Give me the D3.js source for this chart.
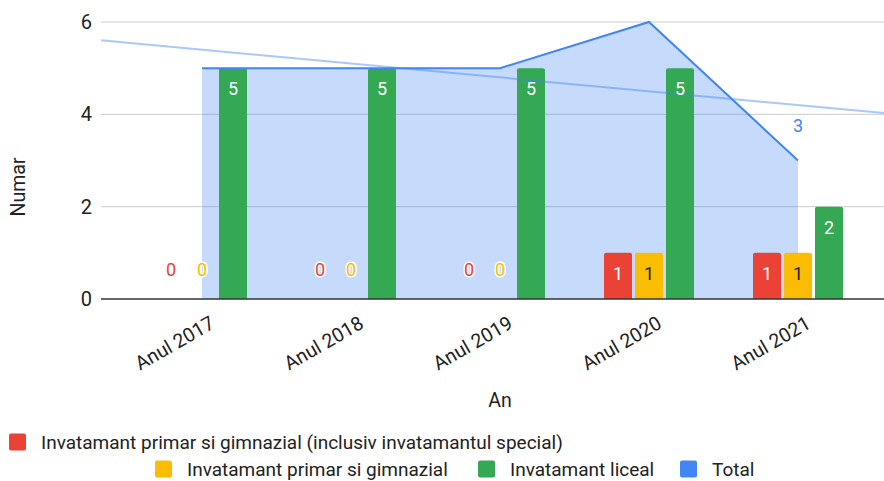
<!DOCTYPE html>
<html>
<head>
<meta charset="utf-8">
<script src="https://cdn.jsdelivr.net/npm/d3@7"></script>
<style>
  html, body { margin: 0; padding: 0; background: #fff; }
  svg { display: block; font-family: Roboto, Arial, sans-serif; }
</style>
</head>
<body>
<svg id="chart" width="884" height="481"></svg>
<script>
// Data
const categories = ["Anul 2017", "Anul 2018", "Anul 2019", "Anul 2020", "Anul 2021"];
const primarSpecial = [0, 0, 0, 1, 1];
const primar = [0, 0, 0, 1, 1];
const liceal = [5, 5, 5, 5, 2];
const total = [5, 5, 5, 6, 3];
const yTicks = [0, 2, 4, 6];

const seriesNames = [
  "Invatamant primar si gimnazial (inclusiv invatamantul special)",
  "Invatamant primar si gimnazial",
  "Invatamant liceal",
  "Total"
];
const colors = ["#ea4335", "#fbbc04", "#34a853", "#4285f4"];

const svg = d3.select("#chart");
const plot = { left: 101, right: 884, top: 22, bottom: 299 };
const FONT = "Roboto, Arial, sans-serif";

// Category positions
const x = d3.scaleBand().domain(categories).range([127.5, 872.5]);
const xc = c => x(c) + x.bandwidth() / 2;
// Continuous index scale used by the trendline
const xi = d3.scaleLinear().domain([0, 1]).range([xc(categories[0]), xc(categories[1])]);
const y = d3.scaleLinear().domain([0, 6]).range([plot.bottom, plot.top]);

// Gridlines
svg.append("g").selectAll("line").data(yTicks.filter(t => t !== 0)).join("line")
  .attr("x1", plot.left).attr("x2", plot.right)
  .attr("y1", d => y(d)).attr("y2", d => y(d))
  .attr("stroke", "#cccccc").attr("stroke-width", 1);

// Y axis labels
const yAxis = d3.axisLeft(y).tickValues(yTicks).tickFormat(d3.format("d")).tickSize(0).tickPadding(0);
const yg = svg.append("g").attr("transform", `translate(${plot.left - 9},0)`).call(yAxis);
yg.select(".domain").remove();
yg.selectAll("text").attr("font-size", 20).attr("fill", "#222").attr("font-family", FONT);

// Total area
const area = d3.area()
  .x((d, i) => xc(categories[i]))
  .y0(y(0)).y1(d => y(d));
svg.append("path").datum(total).attr("d", area)
  .attr("fill", colors[3]).attr("fill-opacity", 0.3);

// Bars
const barW = 28, gap = 3;
const barSeries = [primarSpecial, primar, liceal];
const offsets = [-(barW + gap), 0, barW + gap];
const barPath = (cx, v) => {
  const x0 = cx - barW / 2, x1 = cx + barW / 2, y0 = y(0), y1 = y(v), r = Math.min(2, y0 - y1);
  return `M${x0},${y0}V${y1 + r}Q${x0},${y1} ${x0 + r},${y1}H${x1 - r}Q${x1},${y1} ${x1},${y1 + r}V${y0}Z`;
};
barSeries.forEach((vals, s) => {
  svg.append("g").selectAll("path").data(vals).join("path")
    .attr("d", (v, i) => barPath(xc(categories[i]) + offsets[s], v))
    .attr("fill", colors[s])
    .attr("opacity", v => v > 0 ? 1 : 0);
});

// Baseline
svg.append("line").attr("x1", plot.left).attr("x2", plot.right)
  .attr("y1", y(0)).attr("y2", y(0)).attr("stroke", "#333").attr("stroke-width", 1.5);

// Total line
const line = d3.line().x((d, i) => xc(categories[i])).y(d => y(d));
svg.append("path").datum(total).attr("d", line)
  .attr("fill", "none").attr("stroke", colors[3]).attr("stroke-width", 2);

// Linear trendline for Total
const idx = total.map((d, i) => i);
const mx = d3.mean(idx), my = d3.mean(total);
const slope = d3.sum(idx, i => (i - mx) * (total[i] - my)) / d3.sum(idx, i => (i - mx) ** 2);
const trend = t => my + slope * (t - mx);
const tA = xi.invert(plot.left), tB = xi.invert(plot.right);
svg.append("line")
  .attr("x1", plot.left).attr("y1", y(trend(tA)))
  .attr("x2", plot.right).attr("y2", y(trend(tB)))
  .attr("stroke", colors[3]).attr("stroke-opacity", 0.45).attr("stroke-width", 2);

// Bar value labels
barSeries.forEach((vals, s) => {
  svg.append("g").selectAll("text").data(vals).join("text")
    .attr("x", (v, i) => xc(categories[i]) + offsets[s])
    .attr("y", v => v > 0 ? y(v) + 27 : y(0) - 23)
    .attr("text-anchor", "middle")
    .attr("font-size", 18)
    .attr("fill", v => v > 0 ? (s === 1 ? "#222" : "#fff") : colors[s])
    .attr("stroke", v => v > 0 ? "none" : "#fff")
    .attr("stroke-width", 3)
    .attr("paint-order", "stroke")
    .text(v => v);
});

// Total label on the last point
const last = total.length - 1;
svg.append("text")
  .attr("x", xc(categories[last])).attr("y", y(total[last]) - 28.5)
  .attr("text-anchor", "middle").attr("font-size", 18)
  .attr("fill", colors[3]).attr("stroke", "#fff").attr("stroke-width", 3)
  .attr("paint-order", "stroke")
  .text(total[last]);

// X axis labels
const xAxis = d3.axisBottom(x).tickSize(0).tickPadding(0);
const xg = svg.append("g").attr("transform", `translate(0,${y(0)})`).call(xAxis);
xg.select(".domain").remove();
xg.selectAll("text")
  .attr("font-size", 19.5).attr("fill", "#222").attr("font-family", FONT)
  .attr("text-anchor", "end").attr("dy", null).attr("y", 0)
  .attr("transform", "translate(14,28) rotate(-30)");

// Axis titles
svg.append("text").attr("x", 500).attr("y", 407).attr("text-anchor", "middle")
  .attr("font-size", 19.5).attr("fill", "#222").text("An");
svg.append("text").attr("transform", "translate(25,187) rotate(-90)")
  .attr("text-anchor", "middle").attr("font-size", 19.5).attr("fill", "#222").text("Numar");

// Legend
const legendItems = [
  { i: 0, x: 9, y: 442 },
  { i: 1, x: 155, y: 469 },
  { i: 2, x: 478, y: 469 },
  { i: 3, x: 680, y: 469 }
];
const lg = svg.append("g").selectAll("g").data(legendItems).join("g")
  .attr("transform", d => `translate(${d.x},${d.y})`);
lg.append("rect").attr("x", 0).attr("y", -8.5).attr("width", 17).attr("height", 17).attr("rx", 2)
  .attr("fill", d => colors[d.i]);
lg.append("text").attr("x", 32).attr("y", 0).attr("dy", "0.35em")
  .attr("font-size", 19).attr("fill", "#222")
  .text(d => seriesNames[d.i]);
</script>
</body>
</html>
